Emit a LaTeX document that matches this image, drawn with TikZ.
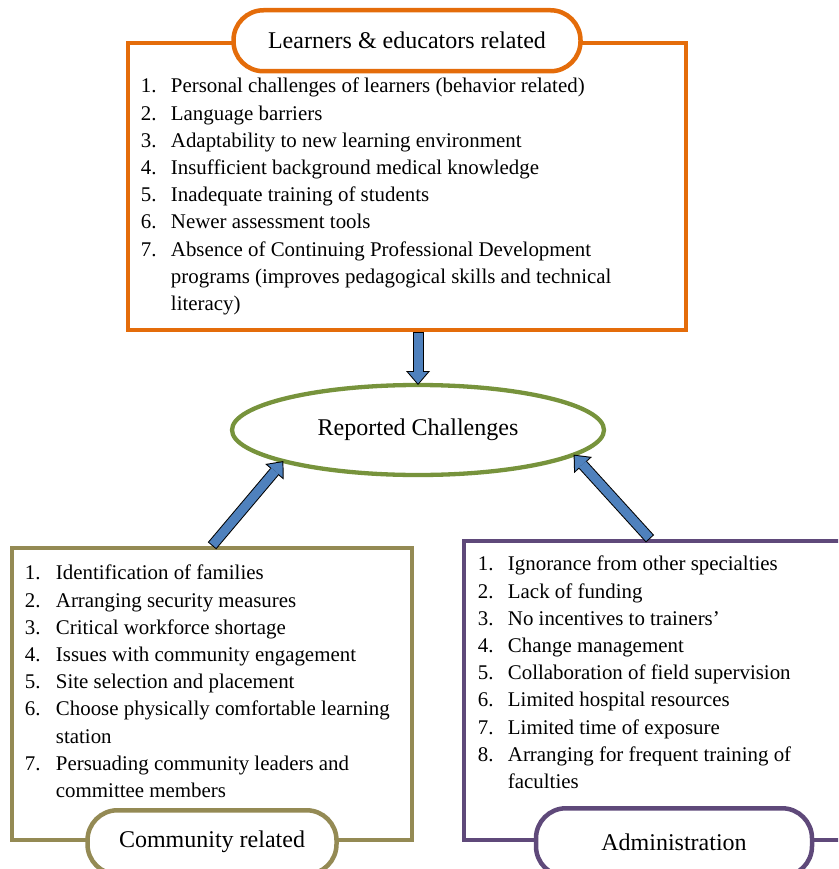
\documentclass[tikz,border=0pt]{standalone}
\usepackage{fontspec}
\setmainfont{Liberation Serif}
\usepackage{array}
\usetikzlibrary{shapes.geometric, arrows.meta}

\definecolor{learnersorange}{HTML}{E46C0A}
\definecolor{hubgreen}{HTML}{77933C}
\definecolor{communitytan}{HTML}{948A54}
\definecolor{adminpurple}{HTML}{5F497A}
\definecolor{arrowblue}{HTML}{4F81BD}

\newcommand{\listfont}{\fontsize{20.9}{27.2}\selectfont}
\newcommand{\tagfont}{\fontsize{24}{28}\selectfont}

\begin{document}
\begin{tikzpicture}[
  x=1pt, y=-1pt,
  panel/.style={rectangle, draw, line width=4.5pt, inner sep=0pt},
  itemlist/.style={anchor=north west, inner sep=0pt, font=\listfont},
  tag/.style={rectangle, rounded corners=30pt, draw, fill=white, line width=4.5pt, minimum height=61pt, font=\tagfont},
  hub/.style={ellipse, draw=hubgreen, line width=4.3pt, outer sep=0pt, minimum width=372pt, minimum height=90pt, font=\tagfont},
  fat/.style={draw=arrowblue, line width=9pt, shorten <=1pt, shorten >=1.5pt,
    -{Triangle[length=11.5pt, width=19.6pt, line width=0pt]},
    preaction={draw=black, line width=11pt, shorten <=0pt, shorten >=0pt,
      -{Triangle[length=14pt, width=24pt, line width=0pt]}}}
]
\clip (0,0) rectangle (838,869);

\node[panel, draw=learnersorange, minimum width=558pt, minimum height=287pt] (learners) at (407,186.5) {};
\node[panel, draw=communitytan, minimum width=400pt, minimum height=292pt] (community) at (212,694) {};
\node[panel, draw=adminpurple, minimum width=420pt, minimum height=299pt] (administration) at (674,690.5) {};

\node[itemlist] (learnerslist) at ([xshift=15pt, yshift=-33pt]learners.north west) {%
\begin{tabular}{@{}p{30pt}@{}l@{}}
1. & Personal challenges of learners (behavior related)\\
2. & Language barriers\\
3. & Adaptability to new learning environment\\
4. & Insufficient background medical knowledge\\
5. & Inadequate training of students\\
6. & Newer assessment tools\\
7. & Absence of Continuing Professional Development\\
   & programs (improves pedagogical skills and technical\\
   & literacy)
\end{tabular}};

\node[itemlist] (communitylist) at ([xshift=15pt, yshift=-15pt]community.north west) {%
\begin{tabular}{@{}p{31pt}@{}l@{}}
1. & Identification of families\\
2. & Arranging security measures\\
3. & Critical workforce shortage\\
4. & Issues with community engagement\\
5. & Site selection and placement\\
6. & Choose physically comfortable learning\\
   & station\\
7. & Persuading community leaders and\\
   & committee members
\end{tabular}};

\node[itemlist] (adminlist) at ([xshift=16pt, yshift=-13pt]administration.north west) {%
\begin{tabular}{@{}p{30pt}@{}l@{}}
1. & Ignorance from other specialties\\
2. & Lack of funding\\
3. & No incentives to trainers’\\
4. & Change management\\
5. & Collaboration of field supervision\\
6. & Limited hospital resources\\
7. & Limited time of exposure\\
8. & Arranging for frequent training of\\
   & faculties
\end{tabular}};

\node[tag, draw=learnersorange, minimum width=347pt] (learnerstag) at (learners.north) {Learners \& educators related};
\node[tag, draw=communitytan, minimum width=249pt, minimum height=64pt] (communitytag) at (community.south) {Community related};
\node[tag, draw=adminpurple, minimum width=276pt, minimum height=68pt] (admintag) at (administration.south) {Administration};

\node[hub] (challenges) at (418,430) {Reported Challenges};

\draw[fat] (challenges.north |- learners.south) -- (challenges.north);
\draw[fat] (community.north) -- (challenges.193);
\draw[fat] ([xshift=-24pt]administration.north) -- (challenges.351);
\end{tikzpicture}
\end{document}
